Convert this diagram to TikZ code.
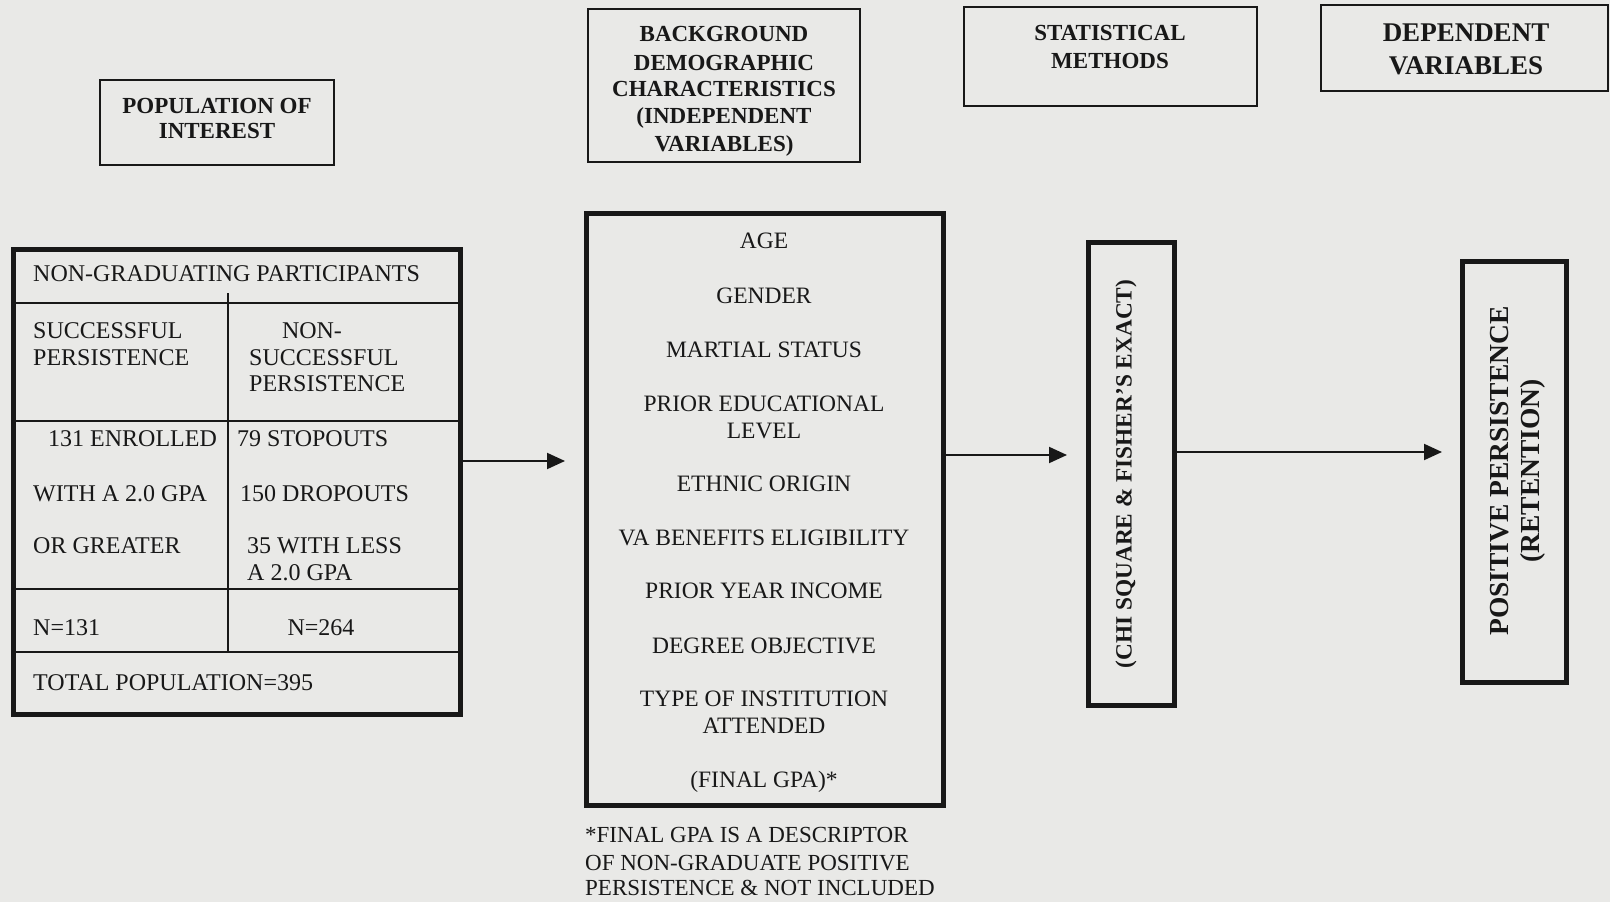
\documentclass[tikz,border=0pt]{standalone}
\usepackage{fontspec}
\setmainfont{Liberation Serif}
\usetikzlibrary{arrows.meta}
\definecolor{paper}{RGB}{233,233,231}
\definecolor{ink}{RGB}{24,24,24}

\begin{document}
\begin{tikzpicture}[x=1pt,y=-1pt,
  thinbox/.style={draw=ink, line width=1.8pt, inner sep=0pt, outer sep=0pt},
  thickbox/.style={draw=ink, line width=5pt, inner sep=0pt, outer sep=0pt},
  rule/.style={draw=ink, line width=1.8pt},
  hdr/.style={font=\fontsize{23}{27}\selectfont\bfseries, text=ink, anchor=base, inner sep=0pt},
  bighdr/.style={font=\fontsize{27}{32}\selectfont\bfseries, text=ink, anchor=base, inner sep=0pt},
  cell/.style={font=\fontsize{24}{27}\selectfont, text=ink, anchor=base west, inner sep=0pt},
  cellc/.style={font=\fontsize{24}{27}\selectfont, text=ink, anchor=base, inner sep=0pt},
  item/.style={font=\fontsize{23.5}{27}\selectfont, text=ink, anchor=base, inner sep=0pt},
  note/.style={font=\fontsize{23}{27}\selectfont, text=ink, anchor=base west, inner sep=0pt},
  arr/.style={draw=ink, line width=2pt, -{Triangle[length=18pt,width=16pt]}},
]
% sheet
\fill[paper] (0,0) rectangle (1610,902);
\useasboundingbox (0,0) rectangle (1610,902);

% ---------- column headings ----------
\node[thinbox, minimum width=234pt, minimum height=85pt] (pop) at (217,122.5) {};
\node[hdr] (popA) at (217,113) {POPULATION OF};
\node[hdr] (popB) at (217,138) {INTEREST};

\node[thinbox, minimum width=272pt, minimum height=153pt] (bg) at (724,85.5) {};
\node[hdr] (bgA) at (724,41) {BACKGROUND};
\node[hdr] (bgB) at (724,70) {DEMOGRAPHIC};
\node[hdr] (bgC) at (724,96) {CHARACTERISTICS};
\node[hdr] (bgD) at (724,123) {(INDEPENDENT};
\node[hdr] (bgE) at (724,151) {VARIABLES)};

\node[thinbox, minimum width=293pt, minimum height=99pt] (sm) at (1110.5,56.5) {};
\node[hdr] (smA) at (1110,40) {STATISTICAL};
\node[hdr] (smB) at (1110,68) {METHODS};

\node[thinbox, minimum width=287pt, minimum height=86pt] (dv) at (1464.5,48) {};
\node[bighdr] (dvA) at (1466,41) {DEPENDENT};
\node[bighdr] (dvB) at (1466,74) {VARIABLES};

% ---------- population table ----------
\node[thickbox, minimum width=447pt, minimum height=465pt] (tbl) at (237,482) {};
\coordinate (h1) at (0,303);
\coordinate (h2) at (0,421);
\coordinate (h3) at (0,589);
\coordinate (h4) at (0,652);
\coordinate (vtop) at (228,293);
\foreach \h in {h1,h2,h3,h4}
  \draw[rule] (tbl.west |- \h) -- (tbl.east |- \h);
\draw[rule] (vtop) -- (vtop |- h4);

\node[cell] (t1) at (33,281) {NON-GRADUATING PARTICIPANTS};
\node[cell] (t2) at (33,338) {SUCCESSFUL};
\node[cell] (t3) at (33,365) {PERSISTENCE};
\node[cellc] (t4) at (312,338) {NON-};
\node[cell] (t5) at (249,365) {SUCCESSFUL};
\node[cell] (t6) at (249,391) {PERSISTENCE};
\node[cell] (t7) at (48,446) {131 ENROLLED};
\node[cell] (t8) at (237,446) {79 STOPOUTS};
\node[cell] (t9) at (33,501) {WITH A 2.0 GPA};
\node[cell] (t10) at (240,501) {150 DROPOUTS};
\node[cell] (t11) at (33,553) {OR GREATER};
\node[cell] (t12) at (247,553) {35 WITH LESS};
\node[cell] (t13) at (247,580) {A 2.0 GPA};
\node[cell] (t14) at (33,635) {N=131};
\node[cellc] (t15) at (321,635) {N=264};
\node[cell] (t16) at (33,690) {TOTAL POPULATION=395};

% ---------- independent variables ----------
\node[thickbox, minimum width=357pt, minimum height=592pt] (list) at (764.5,509) {};
\node[item] (v1) at (764,248) {AGE};
\node[item] (v2) at (764,303) {GENDER};
\node[item] (v3) at (764,357) {MARTIAL STATUS};
\node[item] (v4a) at (764,411.5) {PRIOR EDUCATIONAL};
\node[item] (v4b) at (764,438) {LEVEL};
\node[item] (v5) at (764,491.5) {ETHNIC ORIGIN};
\node[item] (v6) at (764,545) {VA BENEFITS ELIGIBILITY};
\node[item] (v7) at (764,598.5) {PRIOR YEAR INCOME};
\node[item] (v8) at (764,653) {DEGREE OBJECTIVE};
\node[item] (v9a) at (764,706) {TYPE OF INSTITUTION};
\node[item] (v9b) at (764,733) {ATTENDED};
\node[item] (v10) at (764,787) {(FINAL GPA)*};

\node[note] (n1) at (585,842) {*FINAL GPA IS A DESCRIPTOR};
\node[note] (n2) at (585,870) {OF NON-GRADUATE POSITIVE};
\node[note] (n3) at (585,895) {PERSISTENCE \& NOT INCLUDED};

% ---------- statistical method ----------
\node[thickbox, minimum width=86pt, minimum height=463pt] (stat) at (1131,473.5) {};
\node[font=\fontsize{23.3}{27}\selectfont\bfseries, text=ink, rotate=90, inner sep=0pt]
  (statT) at (1126,474) {(CHI SQUARE \& FISHER'S EXACT)};

% ---------- dependent variable ----------
\node[thickbox, minimum width=104pt, minimum height=421pt] (dep) at (1514,472) {};
\node[font=\fontsize{27.5}{31}\selectfont\bfseries, text=ink, rotate=90, align=center, inner sep=0pt]
  (depT) at (1517.5,471) {POSITIVE PERSISTENCE\\(RETENTION)};

% ---------- flow ----------
\coordinate (r1) at (0,461);
\coordinate (r2) at (0,455);
\coordinate (r3) at (0,452);
\draw[arr, shorten >=21pt] (tbl.east |- r1) -- (list.west |- r1);
\draw[arr, shorten >=21pt] (list.east |- r2) -- (stat.west |- r2);
\draw[arr, shorten >=20pt] (stat.east |- r3) -- (dep.west |- r3);
\end{tikzpicture}
\end{document}
